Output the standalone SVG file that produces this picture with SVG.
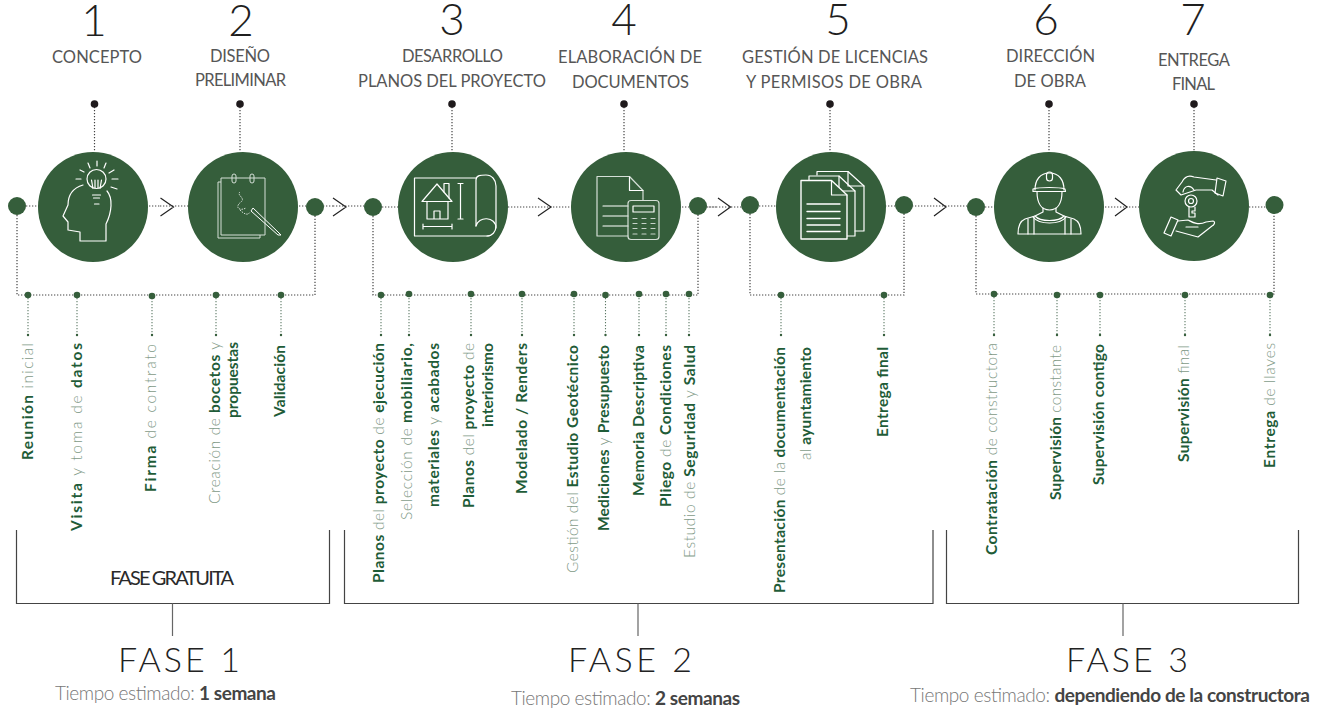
<svg xmlns="http://www.w3.org/2000/svg" width="1319" height="708" viewBox="0 0 1319 708">
<style>
text{font-family:"Lato","Open Sans","Liberation Sans",sans-serif}
.num{font-size:44px;font-weight:300;fill:#1f1f1f;text-anchor:middle}
.ttl{font-size:16.5px;font-weight:400;fill:#565656}
.lb{font-size:15.5px;font-weight:700;fill:#1f5c38}
.lt{font-weight:300;fill:#7f9a87}
.fase{font-size:34px;font-weight:300;fill:#222}
.t{font-size:19px;font-weight:300;fill:#777}
.tb{font-weight:700;fill:#444}
.c{fill:#355e3b}
.d{stroke:#444;stroke-width:1.2;stroke-dasharray:1.3 1.7;fill:none}
.dg{stroke:#5d7a66;stroke-width:1.1;stroke-dasharray:1.2 1.8;fill:none}
.br{stroke:#444;stroke-width:1.2;fill:none}
.ar{stroke:#222;stroke-width:1.2;fill:none}
.i{stroke:#fff;stroke-width:1.2;fill:none;stroke-linejoin:round;stroke-linecap:round}
.i2{stroke:#d5dfd7;stroke-width:1;fill:none}
</style>
<g id="connectors">
<path class="d" d="M17 206H160M160 206H242M242 206H333M333 206H373M373 207H718M698 207H750M750 206H976M976 207H1274"/>
<path class="d" d="M94.500 104V152M240 104V152M452 104V152M624 104V152M830 104V152M1049 104V152M1194 104V151"/>
<path class="d" d="M17 206V295H315V207M373 207V295H698V207M750 205V295H904V205M976 207V294H1274V205"/>
<path class="dg" d="M28 295V335M77 295V335M152 295V335M216 295V335M281 295V335M381 295V335M409 295V335M471 295V335M522 295V335M574 295V335M605.500 295V335M639 295V335M666 295V335M689 295V335M781 295V335M884 295V335M994 294V335M1057 294V335M1100 294V335M1185 294V335M1270 294V335"/>
<path class="ar" d="M160.500 198L173.500 207L160.500 216M333 198L346 207L333 216M538 198L551 207L538 216M718 198L730.500 207L718 216M934 198L946 207L934 216M1115 198L1127 207L1115 216"/>
<path class="br" d="M16.500 530V603.500H329.500V530M344.500 530V603.500H933V530M946.500 530V603.500H1298.500V530"/>
<path d="M172.500 603.500V636M638 603.500V636M1123 603.500V636" stroke="#666" stroke-width="1.2" fill="none"/>
</g>
<g id="junctions" class="c">
<circle cx="17" cy="206" r="9"/><circle cx="315" cy="207" r="9"/><circle cx="373" cy="207" r="9"/><circle cx="698" cy="206" r="9"/><circle cx="750" cy="205" r="9"/><circle cx="904" cy="205" r="9"/><circle cx="976" cy="207" r="9"/><circle cx="1274.500" cy="205" r="9"/>
<circle cx="28" cy="295" r="3.300"/><circle cx="77" cy="295" r="3.300"/><circle cx="152" cy="296" r="3.300"/><circle cx="216" cy="295" r="3.300"/><circle cx="281" cy="295" r="3.300"/>
<circle cx="381" cy="295" r="3.300"/><circle cx="409" cy="294" r="3.300"/><circle cx="471" cy="294" r="3.300"/><circle cx="522" cy="294" r="3.300"/><circle cx="574" cy="294" r="3.300"/><circle cx="605.500" cy="295" r="3.300"/><circle cx="639" cy="294" r="3.300"/><circle cx="666" cy="294" r="3.300"/><circle cx="689" cy="294" r="3.300"/>
<circle cx="781" cy="295" r="3.300"/><circle cx="884" cy="295" r="3.300"/>
<circle cx="994" cy="294" r="3.300"/><circle cx="1057" cy="295" r="3.300"/><circle cx="1100" cy="295" r="3.300"/><circle cx="1185" cy="295" r="3.300"/><circle cx="1270" cy="295" r="3.300"/>
</g>
<g id="stem-ends" fill="#355e3b">
<circle cx="28" cy="335" r="1.200"/><circle cx="77" cy="335" r="1.200"/><circle cx="152" cy="335" r="1.200"/><circle cx="216" cy="335" r="1.200"/><circle cx="281" cy="335" r="1.200"/><circle cx="381" cy="335" r="1.200"/><circle cx="409" cy="335" r="1.200"/><circle cx="471" cy="335" r="1.200"/><circle cx="522" cy="335" r="1.200"/><circle cx="574" cy="335" r="1.200"/><circle cx="605.500" cy="335" r="1.200"/><circle cx="639" cy="335" r="1.200"/><circle cx="666" cy="335" r="1.200"/><circle cx="689" cy="335" r="1.200"/><circle cx="781" cy="335" r="1.200"/><circle cx="884" cy="335" r="1.200"/><circle cx="994" cy="335" r="1.200"/><circle cx="1057" cy="335" r="1.200"/><circle cx="1100" cy="335" r="1.200"/><circle cx="1185" cy="335" r="1.200"/><circle cx="1270" cy="335" r="1.200"/>
</g>
<g id="top-dots" fill="#1f1a1c">
<circle cx="94.500" cy="104" r="3.800"/><circle cx="240" cy="104" r="3.800"/><circle cx="452" cy="104" r="3.800"/><circle cx="624" cy="104" r="3.800"/><circle cx="830" cy="104" r="3.800"/><circle cx="1049" cy="104" r="3.800"/><circle cx="1194" cy="104" r="3.800"/>
</g>

<g id="step-1">
<text class="num" x="94" y="36">1</text>
<text class="ttl" x="52" y="63" textLength="90">CONCEPTO</text>
<circle class="c" cx="93" cy="207" r="55"/>
<g class="i">
<circle cx="96.500" cy="179" r="9.500"/>
<path d="M93 188.500L91.500 180M100 188.500L101.500 180M95 188.500V180M98 188.500V180M92.500 195H100.500M93.500 198H99.500M94.500 204H99"/>
<path d="M83 185C73 188 68 195 68 205L63 216L68 222V230L80 232V241H106V224C112 212 113 198 107 191"/>
<path d="M97 161V166M88 163L90 168M106 163L104 168M80 170L84 172M114 170L109 173M76 179H81M112 179H118M111 187L117 189"/>
</g>
</g>
<g id="step-2">
<text class="num" x="241" y="36">2</text>
<text class="ttl" x="210" y="62" textLength="60">DISEÑO</text>
<text class="ttl" x="195" y="86" textLength="91">PRELIMINAR</text>
<circle class="c" cx="243" cy="207" r="55"/>
<g class="i2">
<path d="M221 182H218V238H260V235"/>
<path d="M221 178H265V235H221Z"/>
<rect x="232" y="174" width="4" height="9" rx="2"/><rect x="250" y="174" width="4" height="9" rx="2"/>
<path d="M240 192C236 195 246 198 241 202C235 206 238 212 246 208M240 210C244 214 248 216 250 212" stroke-dasharray="1.500 1"/>
<path d="M253 208L278 232L281 235L278 235L251 211Z" stroke="#fff"/>
</g>
</g>
<g id="step-3">
<text class="num" x="452" y="35">3</text>
<text class="ttl" x="402" y="62" textLength="101">DESARROLLO</text>
<text class="ttl" x="358" y="87" textLength="188">PLANOS DEL PROYECTO</text>
<circle class="c" cx="453" cy="207" r="55"/>
<g class="i">
<path d="M476 178H414.500V236H489"/>
<path d="M476 226V180C476 175 481 175 486 175C492 175 496 180 496 186V226C496 232 492 236 487 236"/>
<path d="M476 226C478 216 496 216 496 228"/>
<path d="M422 201.500L437 184L452 201.500Z"/>
<path d="M427 202V219H448V202M434 219V211H440V219M444 192V183.500H449V198"/>
<path d="M458 183.500H463M460.500 183.500V219M458 219H463"/>
<path d="M423 226.500H452M423 224V229M452 224V229"/>
</g>
</g>
<g id="step-4">
<text class="num" x="624" y="35">4</text>
<text class="ttl" x="558" y="63" textLength="144">ELABORACIÓN DE</text>
<text class="ttl" x="572" y="88" textLength="117">DOCUMENTOS</text>
<circle class="c" cx="626" cy="207" r="55"/>
<g class="i">
<path d="M628 236H597V176.500H629.500L643 190.500V200" stroke="#d5dfd7"/>
<path d="M629.500 177V190.500H643"/>
<path d="M603 206H628M603 216H628M603 226H628"/>
<rect x="628" y="200.500" width="31" height="39" rx="3" stroke="#d5dfd7"/>
<rect x="633" y="206" width="21" height="6"/>
<path d="M633 218.500H637M642 218.500H646M651 218.500H655M633 223.500H637M642 223.500H646M651 223.500H655M633 228.500H637M642 228.500H646M651 228.500H655M633 234H637M642 234H646M651 234H655" stroke="#c7d3ca"/>
</g>
</g>
<g id="step-5">
<text class="num" x="838" y="35">5</text>
<text class="ttl" x="742" y="63" textLength="186">GESTIÓN DE LICENCIAS</text>
<text class="ttl" x="746" y="88" textLength="176">Y PERMISOS DE OBRA</text>
<circle class="c" cx="831" cy="207" r="55"/>
<g class="i">
<path d="M817 175V171.500H848L864 186V231H855"/>
<path d="M848 171.500V186H864"/>
<path d="M809 180V176H839L855 191V236H847"/>
<path d="M839 176V191H855"/>
<path d="M801 180.500H831.500L847 195V239H801Z" fill="#355e3b" stroke-width="1.400"/>
<path d="M831.500 180.500V195H847"/>
<path d="M807 204H840M807 211.500H840M807 218.500H840M807 225H840M807 231.500H840" stroke-width="1.400"/>
</g>
</g>
<g id="step-6">
<text class="num" x="1046" y="35">6</text>
<text class="ttl" x="1006" y="62" textLength="89">DIRECCIÓN</text>
<text class="ttl" x="1014" y="87" textLength="72">DE OBRA</text>
<circle class="c" cx="1049" cy="207" r="55"/>
<g class="i" stroke-width="1">
<path d="M1035 190C1035 180 1040 173 1049.500 173C1059 173 1064 180 1064 190"/>
<path d="M1033 189C1040 187 1059 187 1065 189L1065.500 191.500H1033Z"/>
<rect x="1046.500" y="172" width="6" height="9" rx="3"/>
<path d="M1037 191.500C1037 204 1042 210 1049.500 210C1057 210 1062 204 1062 191.500"/>
<path d="M1043 208V212L1035 216C1040 222 1059 222 1064 216L1056 212V208"/>
<path d="M1033 217C1039 225 1060 225 1066 217"/>
<path d="M1035 216L1025 219C1020 221 1018 225 1018 234H1081C1081 225 1079 221 1074 219L1064 216"/>
<path d="M1028 219V234M1034 217V234M1065 217V234M1071 219V234"/>
</g>
</g>
<g id="step-7">
<text class="num" x="1193" y="35">7</text>
<text class="ttl" x="1158" y="66" textLength="72">ENTREGA</text>
<text class="ttl" x="1172" y="90" textLength="43">FINAL</text>
<circle class="c" cx="1194" cy="206" r="55"/>
<g class="i" stroke-width="1">
<path d="M1216 180L1194 177C1189 175 1185 176 1182 182L1176 190L1181 195L1196 190H1212L1218 195"/>
<path d="M1217 178L1226 181L1223 196L1215 193Z"/>
<path d="M1183 192C1184 186 1190 184 1194 190"/>
<circle cx="1191" cy="201" r="6"/><circle cx="1191" cy="201" r="2.500"/>
<path d="M1189 207V217H1195V213H1192V211H1195V207"/>
<path d="M1171 217L1164 233L1171 236L1178 220Z"/>
<path d="M1178 221L1188 220C1192 222 1198 226 1206 222L1213 221C1216 222 1214 225 1212 226L1198 237L1176 231"/>
<path d="M1186 227H1198"/>
</g>
</g>

<g id="labels">
<text class="lb" transform="translate(33 460) rotate(-90)" textLength="117">Reunión <tspan class="lt">inicial</tspan></text>
<text class="lb" transform="translate(82 531) rotate(-90)" textLength="188">Visita <tspan class="lt">y toma de</tspan> datos</text>
<text class="lb" transform="translate(156 492) rotate(-90)" textLength="148">Firma <tspan class="lt">de contrato</tspan></text>
<text class="lb" transform="translate(219.500 504) rotate(-90)" textLength="162"><tspan class="lt">Creación de</tspan> bocetos <tspan class="lt">y</tspan></text>
<text class="lb" transform="translate(238 418) rotate(-90)" textLength="76">propuestas</text>
<text class="lb" transform="translate(285 417) rotate(-90)" textLength="72">Validación</text>
<text class="lb" transform="translate(384 583) rotate(-90)" textLength="240">Planos <tspan class="lt">del</tspan> proyecto <tspan class="lt">de</tspan> ejecución</text>
<text class="lb" transform="translate(412 520) rotate(-90)" textLength="177"><tspan class="lt">Selección de</tspan> mobiliario,</text>
<text class="lb" transform="translate(439 507) rotate(-90)" textLength="164">materiales <tspan class="lt">y</tspan> acabados</text>
<text class="lb" transform="translate(474 508) rotate(-90)" textLength="165">Planos <tspan class="lt">del</tspan> proyecto <tspan class="lt">de</tspan></text>
<text class="lb" transform="translate(493 427) rotate(-90)" textLength="84">interiorismo</text>
<text class="lb" transform="translate(527 494) rotate(-90)" textLength="151">Modelado / Renders</text>
<text class="lb" transform="translate(578 573) rotate(-90)" textLength="228"><tspan class="lt">Gestión del</tspan> Estudio Geotécnico</text>
<text class="lb" transform="translate(609 531) rotate(-90)" textLength="186">Mediciones <tspan class="lt">y</tspan> Presupuesto</text>
<text class="lb" transform="translate(644 496) rotate(-90)" textLength="151">Memoria Descriptiva</text>
<text class="lb" transform="translate(671 507) rotate(-90)" textLength="162">Pliego <tspan class="lt">de</tspan> Condiciones</text>
<text class="lb" transform="translate(695 558) rotate(-90)" textLength="213"><tspan class="lt">Estudio de</tspan> Seguridad <tspan class="lt">y</tspan> Salud</text>
<text class="lb" transform="translate(785 593) rotate(-90)" textLength="246">Presentación <tspan class="lt">de la</tspan> documentación</text>
<text class="lb" transform="translate(811 460) rotate(-90)" textLength="113"><tspan class="lt">al</tspan> ayuntamiento</text>
<text class="lb" transform="translate(887.500 437) rotate(-90)" textLength="90">Entrega final</text>
<text class="lb" transform="translate(997 555) rotate(-90)" textLength="212">Contratación <tspan class="lt">de constructora</tspan></text>
<text class="lb" transform="translate(1061 500) rotate(-90)" textLength="155">Supervisión <tspan class="lt">constante</tspan></text>
<text class="lb" transform="translate(1104 485) rotate(-90)" textLength="141">Supervisión contigo</text>
<text class="lb" transform="translate(1189 462) rotate(-90)" textLength="117">Supervisión <tspan class="lt">final</tspan></text>
<text class="lb" transform="translate(1275 468) rotate(-90)" textLength="125">Entrega <tspan class="lt">de llaves</tspan></text>
</g>

<g id="phase-1">
<text x="110" y="585" font-size="20" font-weight="400" fill="#2a2a2a" textLength="124">FASE GRATUITA</text>
<text class="fase" x="118" y="672" textLength="122">FASE 1</text>
<text class="t" x="55" y="700" textLength="221">Tiempo estimado: <tspan class="tb">1 semana</tspan></text>
</g>
<g id="phase-2">
<text class="fase" x="568" y="672" textLength="124">FASE 2</text>
<text class="t" x="511" y="705" textLength="229">Tiempo estimado: <tspan class="tb">2 semanas</tspan></text>
</g>
<g id="phase-3">
<text class="fase" x="1066" y="672" textLength="122">FASE 3</text>
<text class="t" x="910" y="702" textLength="400">Tiempo estimado: <tspan class="tb">dependiendo de la constructora</tspan></text>
</g>
</svg>
